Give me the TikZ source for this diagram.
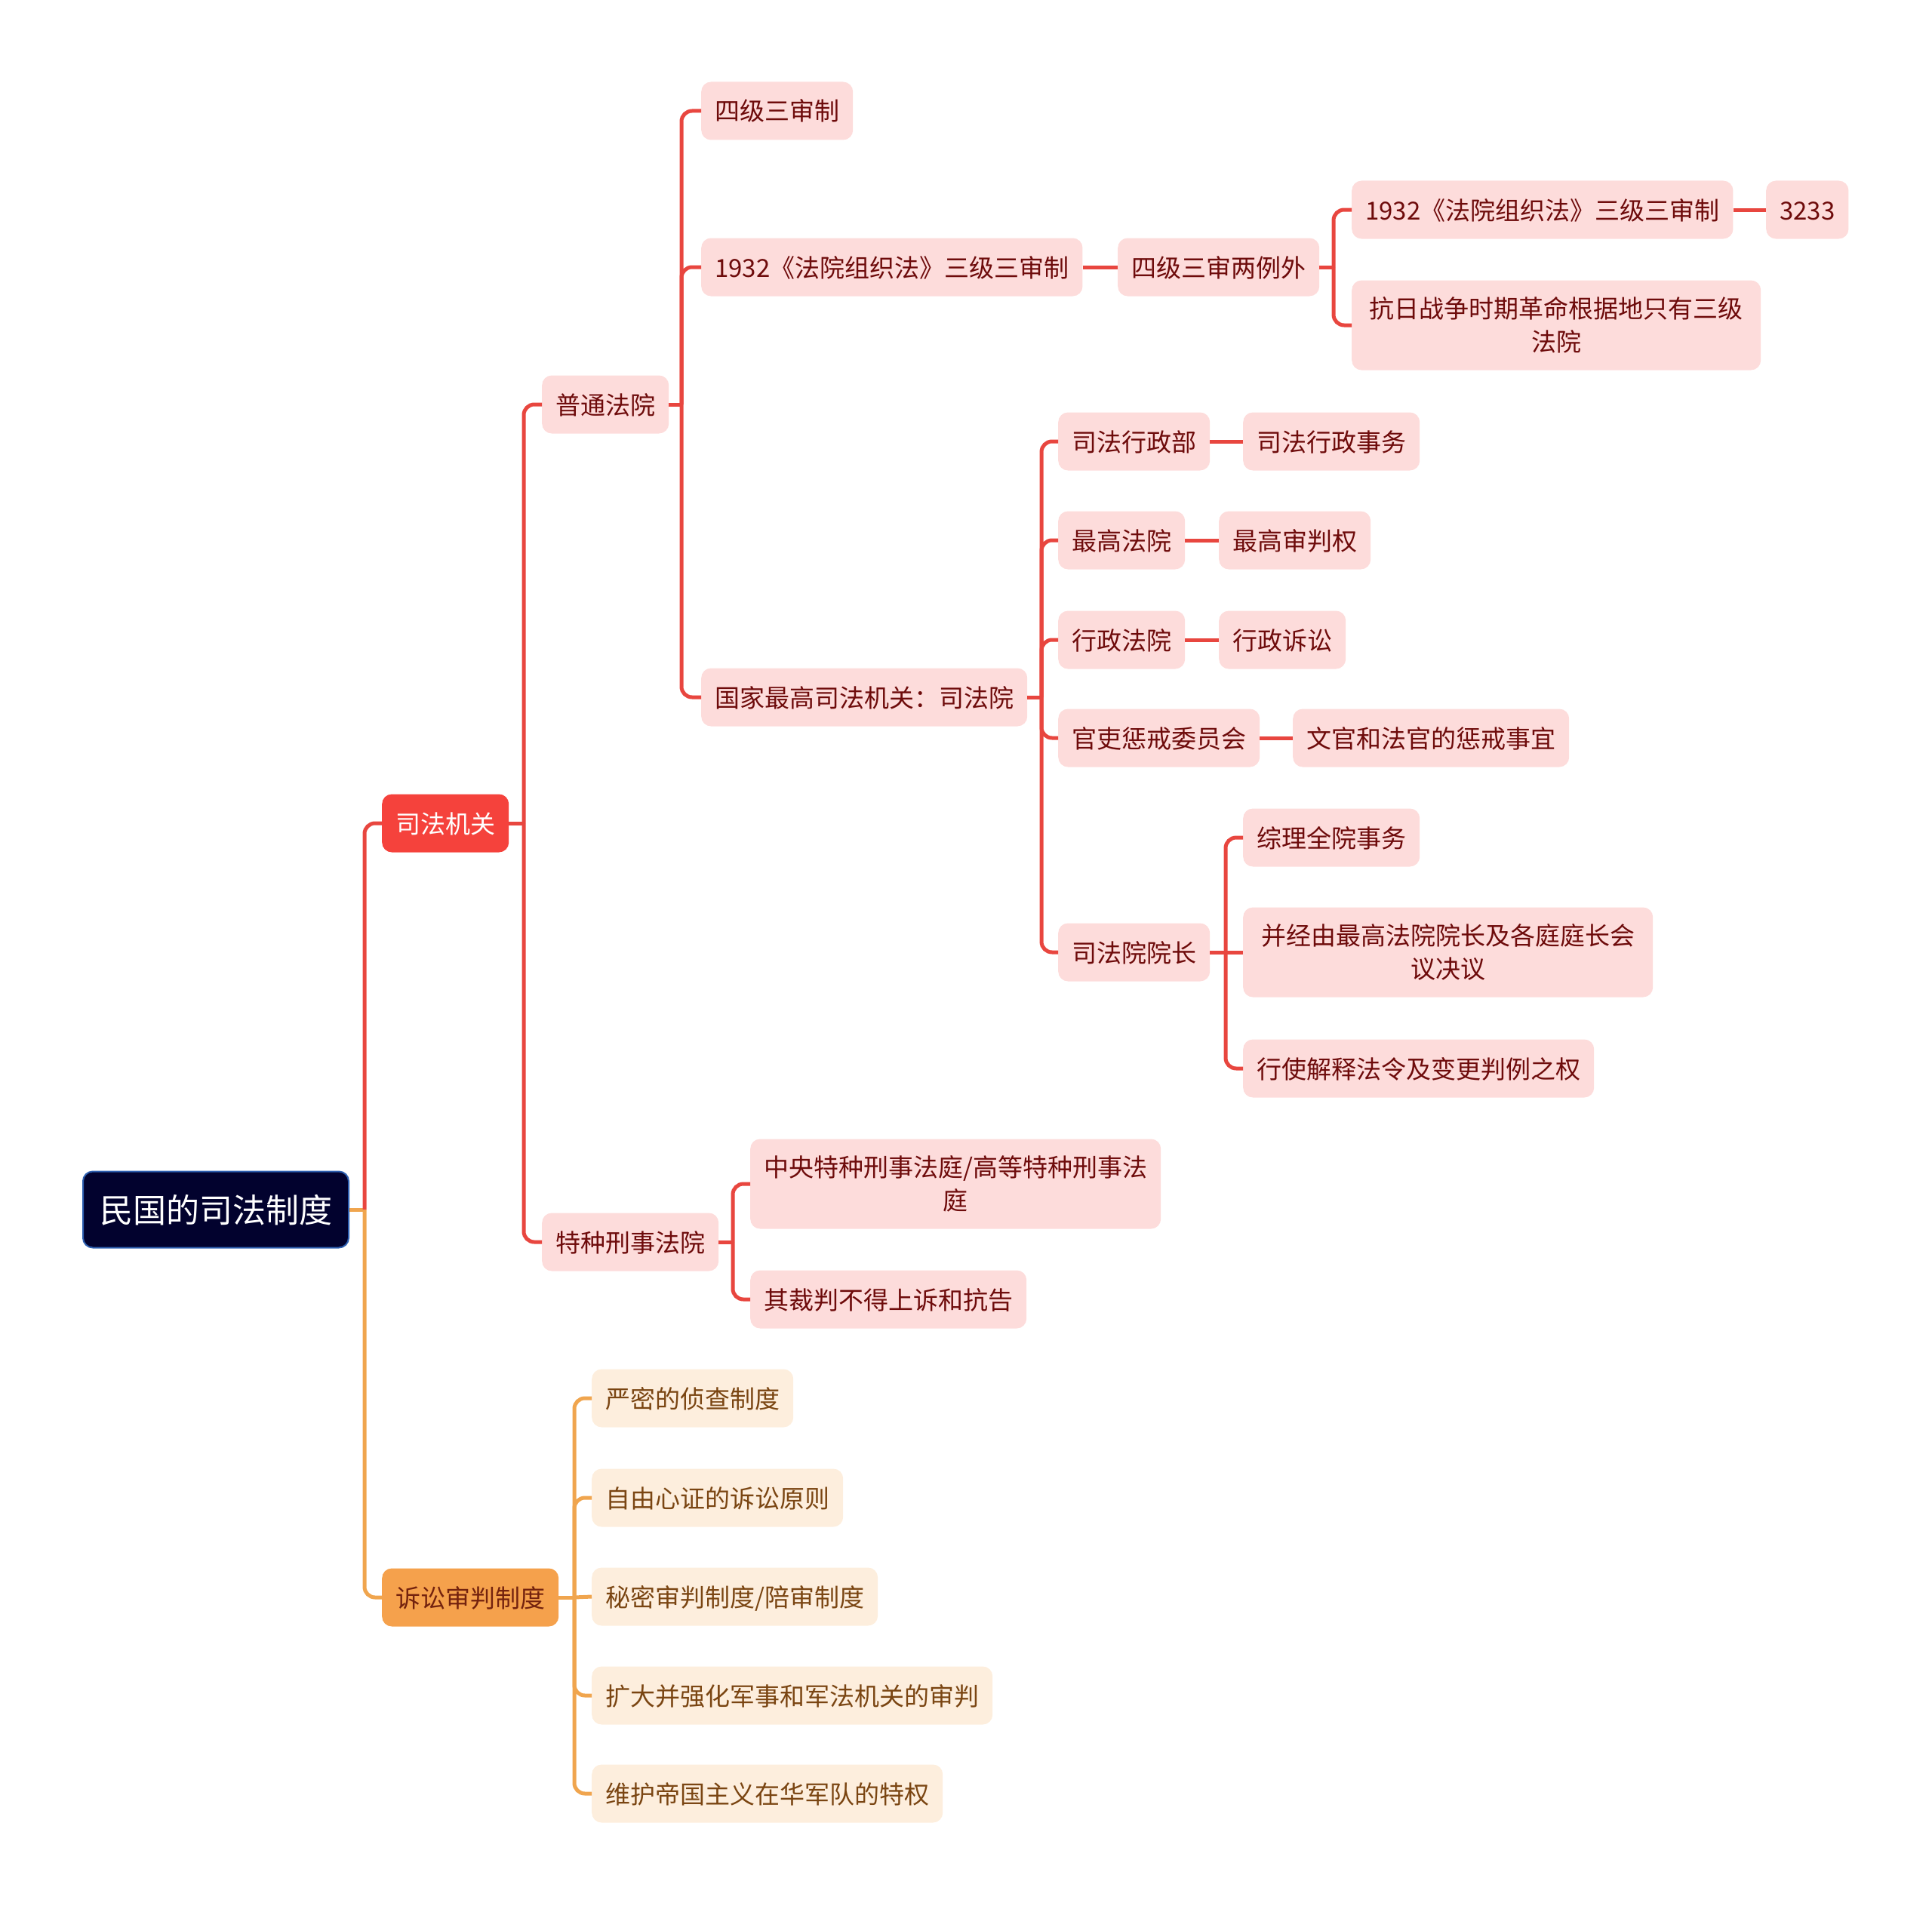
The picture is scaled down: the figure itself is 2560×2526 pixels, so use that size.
\documentclass[tikz,border=0pt]{standalone}
\usepackage{fontspec}
\setmainfont{Noto Sans CJK SC}
\definecolor{redline}{HTML}{E8463F}
\definecolor{pinkfill}{HTML}{FDDCDB}
\definecolor{redtext}{HTML}{6E0B0B}
\definecolor{rootfill}{HTML}{02022E}
\definecolor{rootdraw}{HTML}{2D5FB0}
\definecolor{l1red}{HTML}{F5423C}
\definecolor{l1or}{HTML}{F5A14C}
\definecolor{ortext}{HTML}{7A4512}
\definecolor{orfill}{HTML}{FDEEDD}
\definecolor{orline}{HTML}{F0A54E}
\begin{document}
\begin{tikzpicture}[x=1pt,y=-1pt,
  base/.style={rounded corners=13pt, inner xsep=18pt, inner ysep=0pt, minimum height=77pt,
    font=\fontsize{33}{44}\selectfont, text height=29pt, text depth=3pt, anchor=west},
  rbox/.style={base, fill=pinkfill, text=redtext},
  obox/.style={base, fill=orfill, text=ortext},
  twoline/.style={text height=, text depth=, align=center, minimum height=119pt},
  rline/.style={draw=redline, line width=5pt, rounded corners=14pt},
  oline/.style={draw=orline, line width=5pt, rounded corners=14pt},
  rootbox/.style={base, fill=rootfill, draw=rootdraw, line width=2pt, text=white,
    font=\fontsize{44}{50}\selectfont, inner xsep=22pt, minimum height=101pt, text height=39pt, text depth=4pt},
  l1r/.style={base, fill=l1red, text=white},
  l1o/.style={base, fill=l1or, text=redtext!60!ortext}
]
\useasboundingbox (0,0) rectangle (2560,2526);

% nodes
\node[rootbox] (root) at (109,1603) {民国的司法制度};
\node[l1r] (sfjg) at (506,1091) {司法机关};
\node[l1o] (ssp) at (506,2117) {诉讼审判制度};

\node[rbox] (ptfy) at (718,536) {普通法院};
\node[rbox] (tzxs) at (718,1646) {特种刑事法院};

\node[rbox] (sjss) at (929,147) {四级三审制};
\node[rbox] (fyzzf) at (929,354) {1932《法院组织法》三级三审制};
\node[rbox] (sfy) at (929,924) {国家最高司法机关：司法院};

\node[rbox] (sjlw) at (1481,354) {四级三审两例外};
\node[rbox] (fyzzfb) at (1791,278) {1932《法院组织法》三级三审制};
\node[rbox] (n3233) at (2340,278) {3233};
\node[rbox, twoline, text width=506pt] (kr) at (1791,431) {抗日战争时期革命根据地只有三级\\法院};

\node[rbox] (sfxzb) at (1402,585) {司法行政部};
\node[rbox] (sfxzsw) at (1647,585) {司法行政事务};
\node[rbox] (zgfy) at (1402,716) {最高法院};
\node[rbox] (zgspq) at (1615,716) {最高审判权};
\node[rbox] (xzfy) at (1402,848) {行政法院};
\node[rbox] (xzss) at (1615,848) {行政诉讼};
\node[rbox] (gl) at (1402,978) {官吏惩戒委员会};
\node[rbox] (wg) at (1713,978) {文官和法官的惩戒事宜};
\node[rbox] (yz) at (1402,1262) {司法院院长};
\node[rbox] (zl) at (1647,1110) {综理全院事务};
\node[rbox, twoline, text width=507pt] (bj) at (1647,1262) {并经由最高法院院长及各庭庭长会\\议决议};
\node[rbox] (xs) at (1647,1416) {行使解释法令及变更判例之权};

\node[rbox, twoline, text width=508pt] (zy) at (994,1569) {中央特种刑事法庭/高等特种刑事法\\庭};
\node[rbox] (qcp) at (994,1722) {其裁判不得上诉和抗告};

\node[obox] (o1) at (784,1853) {严密的侦查制度};
\node[obox] (o2) at (784,1985) {自由心证的诉讼原则};
\node[obox] (o3) at (784,2116) {秘密审判制度/陪审制度};
\node[obox] (o4) at (784,2247) {扩大并强化军事和军法机关的审判};
\node[obox] (o5) at (784,2377) {维护帝国主义在华军队的特权};

% junctions
\coordinate (jroot) at (483,1603);
\coordinate (jsfjg) at (694,1091);
\coordinate (jptfy) at (903,536);
\coordinate (jsjlw) at (1767,354);
\coordinate (jsfy) at (1380,924);
\coordinate (jyz) at (1624,1262);
\coordinate (jtzxs) at (971,1646);
\coordinate (jssp) at (761,2117);

% connectors
\draw[oline] (root.east) -- (jroot);
\draw[rline] (jroot) |- (sfjg.west);
\draw[oline] (jroot) |- (ssp.west);

\draw[rline] (sfjg.east) -- (jsfjg);
\draw[rline] (jsfjg) |- (ptfy.west);
\draw[rline] (jsfjg) |- (tzxs.west);

\draw[rline] (ptfy.east) -- (jptfy);
\draw[rline] (jptfy) |- (sjss.west);
\draw[rline] (jptfy) |- (fyzzf.west);
\draw[rline] (jptfy) |- (sfy.west);

\draw[rline] (fyzzf.east) -- (sjlw.west);
\draw[rline] (sjlw.east) -- (jsjlw);
\draw[rline] (jsjlw) |- (fyzzfb.west);
\draw[rline] (jsjlw) |- (kr.west);
\draw[rline] (fyzzfb.east) -- (n3233.west);

\draw[rline] (sfy.east) -- (jsfy);
\draw[rline] (jsfy) |- (sfxzb.west);
\draw[rline] (jsfy) |- (zgfy.west);
\draw[rline] (jsfy) |- (xzfy.west);
\draw[rline] (jsfy) |- (gl.west);
\draw[rline] (jsfy) |- (yz.west);
\draw[rline] (sfxzb.east) -- (sfxzsw.west);
\draw[rline] (zgfy.east) -- (zgspq.west);
\draw[rline] (xzfy.east) -- (xzss.west);
\draw[rline] (gl.east) -- (wg.west);

\draw[rline] (yz.east) -- (jyz);
\draw[rline] (jyz) |- (zl.west);
\draw[rline] (jyz) -- (bj.west);
\draw[rline] (jyz) |- (xs.west);

\draw[rline] (tzxs.east) -- (jtzxs);
\draw[rline] (jtzxs) |- (zy.west);
\draw[rline] (jtzxs) |- (qcp.west);

\draw[oline] (ssp.east) -- (jssp);
\draw[oline] (jssp) |- (o1.west);
\draw[oline] (jssp) |- (o2.west);
\draw[oline] (jssp) -- (o3.west);
\draw[oline] (jssp) |- (o4.west);
\draw[oline] (jssp) |- (o5.west);
\end{tikzpicture}
\end{document}
